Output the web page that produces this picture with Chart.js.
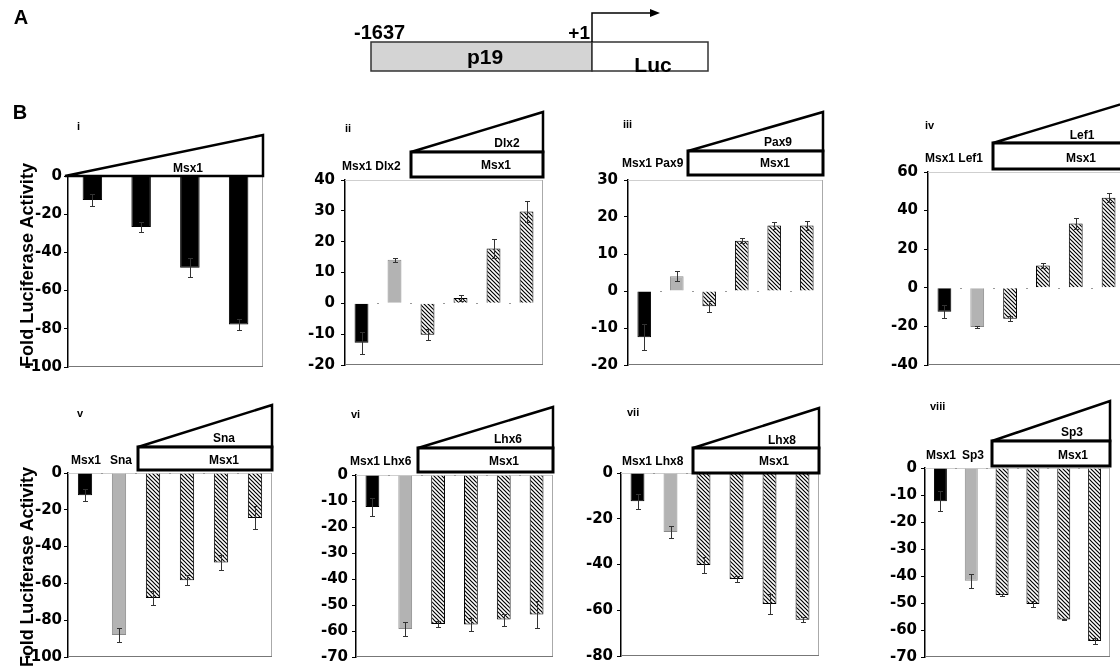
<!DOCTYPE html>
<html>
<head>
<meta charset="utf-8">
<script src="https://cdn.jsdelivr.net/npm/chart.js@4/dist/chart.umd.min.js"></script>
<style>
html, body { margin: 0; padding: 0; background: #fff; overflow: hidden; }
#fig { position: relative; width: 1120px; height: 667px; overflow: hidden; }
#fig canvas { position: absolute; }
#ann { position: absolute; left: 0; top: 0; z-index: 2; pointer-events: none; }
#ann text { font-family: "Liberation Sans", Arial, sans-serif; font-weight: bold; fill: #000; }
</style>
</head>
<body>
<div id="fig">
<svg id="ann" width="1120" height="667">
  <!-- A: reporter construct -->
  <text x="21" y="24" font-size="20" text-anchor="middle">A</text>
  <text x="20" y="119" font-size="20" text-anchor="middle">B</text>
  <rect x="371" y="42" width="221" height="29" fill="#d4d4d4" stroke="#333" stroke-width="1.5"/>
  <rect x="592" y="42" width="116" height="29" fill="#fff" stroke="#333" stroke-width="1.5"/>
  <polyline points="592,42 592,13 652,13" fill="none" stroke="#000" stroke-width="1.5"/>
  <polygon points="650,9 660,13 650,17" fill="#000"/>
  <text x="354" y="39" font-size="20">-1637</text>
  <text x="590" y="39" font-size="19" text-anchor="end">+1</text>
  <text x="485" y="64" font-size="21" text-anchor="middle">p19</text>
  <text x="653" y="72" font-size="21" text-anchor="middle">Luc</text>

  <!-- y titles -->
  <text transform="translate(33,265) rotate(-90)" font-size="18" text-anchor="middle" textLength="204">Fold Luciferase Activity</text>
  <text transform="translate(33,567) rotate(-90)" font-size="18" text-anchor="middle" textLength="200">Fold Luciferase Activity</text>

  <!-- i -->
  <text x="77" y="130" font-size="11">i</text>
  <polygon points="65,176 263,135 263,176" fill="#fff" stroke="#000" stroke-width="2.5"/>
  <text x="188" y="172" font-size="12" text-anchor="middle">Msx1</text>

  <!-- ii -->
  <text x="345" y="132" font-size="11">ii</text>
  <polygon points="411,152 543,112 543,152" fill="#fff" stroke="#000" stroke-width="2.5"/>
  <rect x="411" y="152" width="132" height="25" fill="#fff" stroke="#000" stroke-width="3"/>
  <text x="507" y="147" font-size="12" text-anchor="middle">Dlx2</text>
  <text x="496" y="169" font-size="12" text-anchor="middle">Msx1</text>
  <text x="342" y="170" font-size="12">Msx1 Dlx2</text>

  <!-- iii -->
  <text x="623" y="128" font-size="11">iii</text>
  <polygon points="688,151 823,112 823,151" fill="#fff" stroke="#000" stroke-width="2.5"/>
  <rect x="688" y="151" width="135" height="24" fill="#fff" stroke="#000" stroke-width="3"/>
  <text x="778" y="146" font-size="12" text-anchor="middle">Pax9</text>
  <text x="775" y="167" font-size="12" text-anchor="middle">Msx1</text>
  <text x="622" y="167" font-size="12">Msx1 Pax9</text>

  <!-- iv -->
  <text x="925" y="129" font-size="11">iv</text>
  <polygon points="993,143 1135,100 1135,143" fill="#fff" stroke="#000" stroke-width="2.5"/>
  <rect x="993" y="143" width="150" height="26" fill="#fff" stroke="#000" stroke-width="3"/>
  <text x="1082" y="139" font-size="12" text-anchor="middle">Lef1</text>
  <text x="1081" y="162" font-size="12" text-anchor="middle">Msx1</text>
  <text x="925" y="162" font-size="12">Msx1 Lef1</text>

  <!-- v -->
  <text x="77" y="417" font-size="11">v</text>
  <polygon points="138,447 272,405 272,447" fill="#fff" stroke="#000" stroke-width="2.5"/>
  <rect x="138" y="447" width="134" height="23" fill="#fff" stroke="#000" stroke-width="3"/>
  <text x="224" y="442" font-size="12" text-anchor="middle">Sna</text>
  <text x="224" y="464" font-size="12" text-anchor="middle">Msx1</text>
  <text x="86" y="464" font-size="12" text-anchor="middle">Msx1</text>
  <text x="121" y="464" font-size="12" text-anchor="middle">Sna</text>

  <!-- vi -->
  <text x="351" y="418" font-size="11">vi</text>
  <polygon points="418,448 553,407 553,448" fill="#fff" stroke="#000" stroke-width="2.5"/>
  <rect x="418" y="448" width="135" height="24" fill="#fff" stroke="#000" stroke-width="3"/>
  <text x="508" y="443" font-size="12" text-anchor="middle">Lhx6</text>
  <text x="504" y="465" font-size="12" text-anchor="middle">Msx1</text>
  <text x="350" y="465" font-size="12">Msx1 Lhx6</text>

  <!-- vii -->
  <text x="627" y="416" font-size="11">vii</text>
  <polygon points="693,448 819,408 819,448" fill="#fff" stroke="#000" stroke-width="2.5"/>
  <rect x="693" y="448" width="126" height="25" fill="#fff" stroke="#000" stroke-width="3"/>
  <text x="782" y="444" font-size="12" text-anchor="middle">Lhx8</text>
  <text x="774" y="465" font-size="12" text-anchor="middle">Msx1</text>
  <text x="622" y="465" font-size="12">Msx1 Lhx8</text>

  <!-- viii -->
  <text x="930" y="410" font-size="11">viii</text>
  <polygon points="992,441 1110,401 1110,441" fill="#fff" stroke="#000" stroke-width="2.5"/>
  <rect x="992" y="441" width="118" height="25" fill="#fff" stroke="#000" stroke-width="3"/>
  <text x="1072" y="436" font-size="12" text-anchor="middle">Sp3</text>
  <text x="1073" y="459" font-size="12" text-anchor="middle">Msx1</text>
  <text x="941" y="459" font-size="12" text-anchor="middle">Msx1</text>
  <text x="973" y="459" font-size="12" text-anchor="middle">Sp3</text>
</svg>
</div>
<script>
// --- data ---
const catsI = ['Msx1 1', 'Msx1 2', 'Msx1 3', 'Msx1 4'];
const valsI = [-12.5, -26.7, -48, -77.8];
const errsI = [3.1, 2.6, 5, 2.8];

const catsII = ['Msx1', 'Dlx2', 'Msx1+Dlx2 1', 'Msx1+Dlx2 2', 'Msx1+Dlx2 3', 'Msx1+Dlx2 4'];
const valsII = [-12.8, 14.1, -10.2, 1.7, 17.8, 29.8];
const errsII = [3.6, 0.7, 1.8, 0.9, 3.2, 3.5];

const catsIII = ['Msx1', 'Pax9', 'Msx1+Pax9 1', 'Msx1+Pax9 2', 'Msx1+Pax9 3', 'Msx1+Pax9 4'];
const valsIII = [-12.5, 4.0, -4.1, 13.6, 17.7, 17.7];
const errsIII = [3.5, 1.3, 1.5, 0.7, 1.0, 1.2];

const catsIV = ['Msx1', 'Lef1', 'Msx1+Lef1 1', 'Msx1+Lef1 2', 'Msx1+Lef1 3', 'Msx1+Lef1 4'];
const valsIV = [-12.4, -20.3, -16.1, 11.6, 33.3, 46.7];
const errsIV = [3.3, 0.5, 1.3, 1.1, 2.9, 2.3];

const catsV = ['Msx1', 'Sna', 'Msx1+Sna 1', 'Msx1+Sna 2', 'Msx1+Sna 3', 'Msx1+Sna 4'];
const valsV = [-12.1, -88.1, -68, -58.3, -48.6, -24.4];
const errsV = [3.3, 3.8, 3.7, 2.7, 4.1, 6.3];

const catsVI = ['Msx1', 'Lhx6', 'Msx1+Lhx6 1', 'Msx1+Lhx6 2', 'Msx1+Lhx6 3', 'Msx1+Lhx6 4'];
const valsVI = [-12.3, -59.2, -57.3, -57.5, -55.6, -53.7];
const errsVI = [3.4, 2.8, 1.3, 2.5, 2.3, 5.1];

const catsVII = ['Msx1', 'Lhx8', 'Msx1+Lhx8 1', 'Msx1+Lhx8 2', 'Msx1+Lhx8 3', 'Msx1+Lhx8 4'];
const valsVII = [-12.3, -25.8, -40.2, -46.3, -57.3, -64.1];
const errsVII = [3.3, 2.8, 3.6, 1.4, 4.2, 1.1];

const catsVIII = ['Msx1', 'Sp3', 'Msx1+Sp3 1', 'Msx1+Sp3 2', 'Msx1+Sp3 3', 'Msx1+Sp3 4'];
const valsVIII = [-12.3, -41.8, -47, -50.4, -56.1, -64.1];
const errsVIII = [3.7, 2.5, 0.4, 1.0, 0.3, 1.2];

// axis ranges: min, max, step
const rangeI = [-100, 0, 20];
const rangeII = [-20, 40, 10];
const rangeIII = [-20, 30, 10];
const rangeIV = [-40, 60, 20];
const rangeV = [-100, 0, 20];
const rangeVI = [-70, 0, 10];
const rangeVII = [-80, 0, 20];
const rangeVIII = [-70, 0, 10];

const AXW = 60, PAD = 12;

// diagonal hatch fill for the co-transfection bars
const makeHatch = () => {
    const c = document.createElement('canvas');
    c.width = 4; c.height = 4;
    const g = c.getContext('2d');
    g.fillStyle = '#fff';
    g.fillRect(0, 0, 4, 4);
    g.strokeStyle = '#000';
    g.lineWidth = 1.2;
    g.beginPath();
    g.moveTo(0, 0); g.lineTo(4, 4);
    g.moveTo(-1, 3); g.lineTo(1, 5);
    g.moveTo(3, -1); g.lineTo(5, 1);
    g.stroke();
    return g.createPattern(c, 'repeat');
};
const hatch = makeHatch();

// plot frame, zero ticks and error bars
const extras = {
    id: 'extras',
    beforeDatasetsDraw(chart) {
        const { ctx, chartArea: a, scales: { y } } = chart;
        ctx.save();
        ctx.lineWidth = 1;
        ctx.strokeStyle = '#cfcfcf';
        ctx.beginPath(); ctx.moveTo(a.left, a.top + 0.5); ctx.lineTo(a.right, a.top + 0.5); ctx.stroke();
        ctx.strokeStyle = '#aaa';
        ctx.beginPath(); ctx.moveTo(a.right - 0.5, a.top); ctx.lineTo(a.right - 0.5, a.bottom); ctx.stroke();
        ctx.strokeStyle = '#777';
        ctx.beginPath(); ctx.moveTo(a.left, a.bottom - 0.5); ctx.lineTo(a.right, a.bottom - 0.5); ctx.stroke();
        const y0 = Math.round(y.getPixelForValue(0)) + 0.5;
        const n = chart.data.labels.length;
        ctx.strokeStyle = '#999';
        for (let i = 1; i < n; i++) {
            const px = Math.round(a.left + a.width * i / n);
            ctx.beginPath(); ctx.moveTo(px - 1, y0); ctx.lineTo(px + 1, y0); ctx.stroke();
        }
        ctx.restore();
    },
    afterDatasetsDraw(chart, args, opts) {
        const { ctx, scales: { y } } = chart;
        const vals = chart.data.datasets[0].data;
        ctx.save();
        ctx.strokeStyle = '#333';
        ctx.lineWidth = 1;
        chart.getDatasetMeta(0).data.forEach((bar, i) => {
            const e = opts.errs[i];
            const x = Math.round(bar.x) + 0.5;
            const y1 = Math.round(y.getPixelForValue(vals[i] - e)) + 0.5;
            const y2 = Math.round(y.getPixelForValue(vals[i] + e)) + 0.5;
            ctx.beginPath();
            ctx.moveTo(x, y1); ctx.lineTo(x, y2);
            ctx.moveTo(x - 2.5, y1); ctx.lineTo(x + 2.5, y1);
            ctx.moveTo(x - 2.5, y2); ctx.lineTo(x + 2.5, y2);
            ctx.stroke();
        });
        ctx.restore();
    }
};

const panels = [
    { cats: catsI, vals: valsI, errs: errsI, range: rangeI, box: [68, 263, 176, 367], pad: 2, allBlack: true, bar: 0.4 },
    { cats: catsII, vals: valsII, errs: errsII, range: rangeII, box: [345, 543, 177, 368], pad: 6 },
    { cats: catsIII, vals: valsIII, errs: errsIII, range: rangeIII, box: [628, 823, 177, 368], pad: 6 },
    { cats: catsIV, vals: valsIV, errs: errsIV, range: rangeIV, box: [928, 1125, 169, 368], pad: 6 },
    { cats: catsV, vals: valsV, errs: errsV, range: rangeV, box: [68, 272, 473, 657], pad: 2 },
    { cats: catsVI, vals: valsVI, errs: errsVI, range: rangeVI, box: [356, 553, 474, 658], pad: 4 },
    { cats: catsVII, vals: valsVII, errs: errsVII, range: rangeVII, box: [621, 819, 472, 657], pad: 4 },
    { cats: catsVIII, vals: valsVIII, errs: errsVIII, range: rangeVIII, box: [925, 1110, 467, 658], pad: 4 }
];

const fig = document.getElementById('fig');

panels.forEach(p => {
    const [l, r, t, b] = p.box;
    const cv = document.createElement('canvas');
    cv.width = r - l + AXW + 4;
    cv.height = b - t + 2 * PAD;
    cv.style.left = (l - AXW) + 'px';
    cv.style.top = (t - PAD) + 'px';
    fig.insertBefore(cv, fig.firstChild);

    const fills = p.cats.map((c, i) => p.allBlack || i === 0 ? '#000' : i === 1 ? '#b3b3b3' : hatch);
    const edges = p.cats.map((c, i) => !p.allBlack && i === 1 ? '#8a8a8a' : '#000');

    new Chart(cv, {
        type: 'bar',
        data: {
            labels: p.cats,
            datasets: [{
                data: p.vals,
                backgroundColor: fills,
                borderColor: edges,
                borderWidth: 1,
                barPercentage: p.bar || 0.42,
                categoryPercentage: 1
            }]
        },
        options: {
            responsive: false,
            animation: false,
            devicePixelRatio: 1,
            layout: { padding: { left: 0, right: 4, top: PAD, bottom: PAD } },
            plugins: {
                legend: { display: false },
                tooltip: { enabled: false },
                extras: { errs: p.errs }
            },
            scales: {
                x: { display: false },
                y: {
                    min: p.range[0],
                    max: p.range[1],
                    ticks: {
                        stepSize: p.range[2],
                        color: '#000',
                        padding: p.pad,
                        font: { family: 'DejaVu Sans', weight: 'bold', size: 15 }
                    },
                    grid: { drawOnChartArea: false, drawTicks: true, tickLength: 4, color: '#000' },
                    border: { color: '#000', width: 1.5 },
                    afterFit(s) { s.width = AXW; }
                }
            }
        },
        plugins: [extras]
    });
});
</script>
</body>
</html>
